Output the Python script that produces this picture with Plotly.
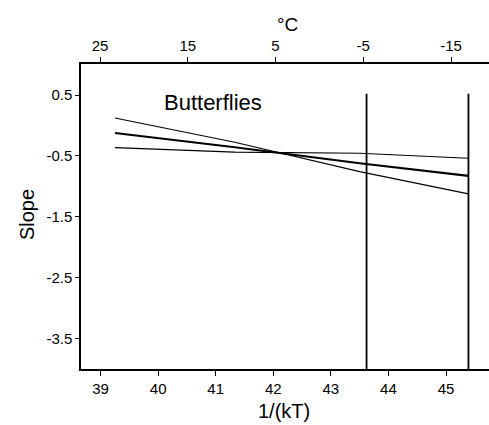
import plotly.graph_objects as go

# Inverse temperature 1/(kT) at which the fitted lines were read
inv_kt = [39.25, 41.33, 43.50, 45.39]

# Fitted slope and the two bounding lines
slope_fit = [-0.123, -0.357, -0.620, -0.828]
slope_steep = [0.123, -0.275, -0.757, -1.123]
slope_flat = [-0.364, -0.439, -0.456, -0.538]

# Reference temperatures marked by vertical lines (1/(kT))
vlines_x = [43.62, 45.39]
vline_top = 0.52
vline_bottom = -4.0

# Tick labels
x_ticks = [39, 40, 41, 42, 43, 44, 45]
y_ticks = [0.5, -0.5, -1.5, -2.5, -3.5]
y_tick_text = ["0.5", "-0.5", "-1.5", "-2.5", "-3.5"]
c_ticks = [25, 15, 5, -5, -15]
c_tick_text = ["25", "15", "5", "-5", "-15"]

FONT = "Liberation Sans, Arial, Helvetica, sans-serif"

fig = go.Figure()

for ys, w in [(slope_steep, 1.2), (slope_flat, 1.2), (slope_fit, 2.2)]:
    fig.add_trace(go.Scatter(x=inv_kt, y=ys, mode="lines",
                             line=dict(color="black", width=w),
                             showlegend=False, hoverinfo="skip"))

for vx in vlines_x:
    fig.add_trace(go.Scatter(x=[vx, vx], y=[vline_bottom, vline_top], mode="lines",
                             line=dict(color="black", width=1.8),
                             showlegend=False, hoverinfo="skip"))

# invisible trace so the Celsius axis is drawn
fig.add_trace(go.Scatter(x=[c_ticks[0]], y=[0], xaxis="x2", mode="markers",
                         marker=dict(opacity=0), showlegend=False, hoverinfo="skip"))

fig.update_layout(
    width=489, height=425,
    margin=dict(l=81, r=0, t=64, b=56),
    paper_bgcolor="white", plot_bgcolor="white",
    font=dict(family=FONT, color="black", size=15),
    xaxis=dict(range=[38.66, 45.747], tickvals=x_ticks, ticks="outside",
               ticklen=5, tickwidth=1, tickcolor="black",
               showline=True, linecolor="black", linewidth=1.5,
               showgrid=False, zeroline=False, tickfont=dict(size=15)),
    xaxis2=dict(overlaying="x", side="top", range=[27.17, -19.33],
                tickvals=c_ticks, ticktext=c_tick_text, ticks="outside",
                ticklen=5, tickwidth=1, tickcolor="black",
                showline=True, linecolor="black", linewidth=1.5,
                showgrid=False, zeroline=False, tickfont=dict(size=15)),
    yaxis=dict(range=[-4.0, 1.01], tickvals=y_ticks, ticktext=y_tick_text,
               ticks="outside", ticklen=4, tickwidth=1, tickcolor="black",
               showline=True, linecolor="black", linewidth=1.5,
               showgrid=False, zeroline=False, tickfont=dict(size=15)),
    annotations=[
        dict(text="Butterflies", x=40.07, y=0.38, xref="x", yref="y",
             xanchor="left", yanchor="middle", showarrow=False,
             font=dict(size=22, family=FONT)),
        dict(text="°C", x=0.505, y=1.128, xref="paper", yref="paper",
             xanchor="center", yanchor="middle", showarrow=False,
             font=dict(size=19, family=FONT)),
        dict(text="1/(kT)", x=0.498, y=-0.138, xref="paper", yref="paper",
             xanchor="center", yanchor="middle", showarrow=False,
             font=dict(size=20, family=FONT)),
        dict(text="Slope", x=-0.132, y=0.505, xref="paper", yref="paper",
             xanchor="center", yanchor="middle", showarrow=False, textangle=-90,
             font=dict(size=20, family=FONT)),
    ],
)

fig.write_html("out.html")
